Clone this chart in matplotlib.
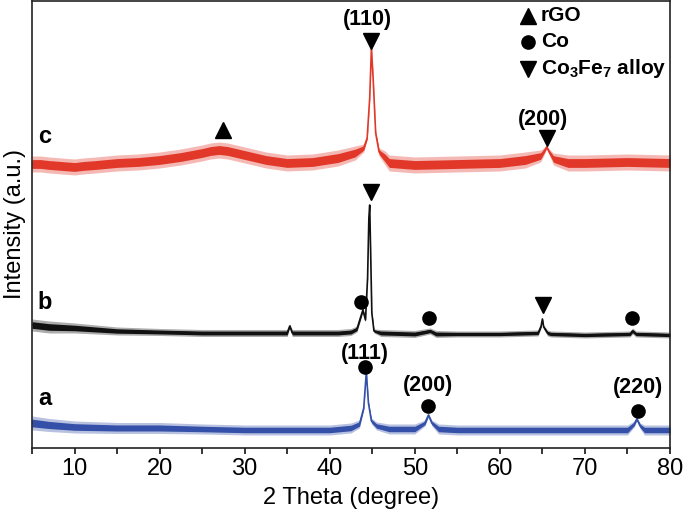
import matplotlib
matplotlib.use("Agg")
import matplotlib.pyplot as plt
import numpy as np

plt.rcParams['font.family'] = ['Liberation Sans', 'DejaVu Sans']
plt.rcParams['mathtext.fontset'] = 'custom'
plt.rcParams['mathtext.rm'] = 'Liberation Sans'
plt.rcParams['mathtext.bf'] = 'Liberation Sans:bold'

# ---- pattern c (red) : 2theta, intensity (a.u.), noise amplitude (spikes) ----
c_tt = [5, 6, 7, 8.5, 10, 11, 12.5, 15, 17.5, 20, 22.5, 25, 26, 27, 28, 29, 30, 32.5, 35,
        38, 41, 43, 44, 44.4, 44.7, 44.9, 45.1, 45.4, 45.8, 46.5, 47, 50, 55, 60, 63,
        64.8, 65.3, 65.5, 65.8, 66.3, 68, 70, 75, 80]
c_int = [284, 284, 283, 282, 281, 282, 283, 285, 286, 288, 291, 295, 297, 298, 297, 295,
         293, 288, 285, 286, 290, 295, 300, 310, 350, 400, 370, 315, 296, 290, 285, 283,
         284, 285, 288, 292, 298, 301, 296, 289, 285, 285, 286, 285]
c_noise = [8, 8, 8, 8, 8, 8, 8, 8, 8, 8, 8, 8, 8, 8, 8, 8, 8, 8, 8, 8, 8, 7, 4, 2, 1.5,
           1.5, 1.5, 2, 4, 7, 8, 8, 8, 8, 8, 6, 3, 2, 3, 6, 8, 8, 8, 8]

# ---- pattern b (black) ----
b_tt = [5, 7, 10, 15, 20, 25, 30, 35, 35.3, 35.6, 38, 41, 42.5, 43.2, 43.6, 43.9, 44.2,
        44.45, 44.6, 44.7, 44.8, 44.95, 45.2, 46, 50, 51.8, 52.5, 55, 60, 64.5, 64.85,
        65.0, 65.15, 65.6, 66, 70, 75.3, 75.6, 76, 80]
b_int = [123, 121, 120, 117, 116, 115, 115, 115, 122, 115, 115, 115, 116, 119, 130, 138,
         128, 170, 230, 243, 200, 135, 117, 115, 114, 117, 114, 114, 114, 115, 122, 129,
         121, 115, 114, 113, 114, 117, 114, 113]
b_noise = [6, 6, 5, 4, 3.5, 3.5, 3.5, 3.5, 2, 3.5, 3.5, 3.5, 3.5, 3, 3, 2, 2, 1.5,
           1.5, 1.5, 1.5, 1.5, 2, 3.5, 3.5, 3, 3.5, 3, 3, 3, 2, 1.5, 2, 3, 3, 3, 3, 3, 3, 3]

# ---- pattern a (blue) ----
a_tt = [5, 7, 10, 15, 20, 25, 30, 35, 40, 42.5, 43.5, 44.0, 44.3, 44.55, 44.9, 45.5, 47,
        50, 51.2, 51.6, 52.0, 52.8, 55, 60, 65, 70, 75, 75.8, 76.1, 76.5, 77, 80]
a_int = [25, 23, 21, 20, 20, 19, 18, 18, 18, 20, 24, 40, 76, 45, 27, 22, 19, 19, 25, 33,
         25, 19, 18, 18, 18, 18, 18, 24, 29, 22, 18, 18]
a_noise = [7, 6.5, 6, 5.5, 5.5, 5, 5, 5, 5, 5, 4, 2, 1.5, 2, 3, 4, 5, 5, 3, 2,
           3, 5, 5, 5, 5, 5, 5, 3, 2, 3, 5, 5]

# ---- peak markers ----
c_alloy_tt = [44.85, 65.5]
c_alloy_h = [407, 310]
c_alloy_hkl = ["(110)", "(200)"]
c_alloy_hkl_h = [428, 328]
c_rgo_tt = [27.45]
c_rgo_h = [318]
b_alloy_tt = [44.85, 65.07]
b_alloy_h = [256, 143]
b_co_tt = [43.7, 51.7, 75.5]
b_co_h = [146, 130, 130]
a_co_tt = [44.15, 51.5, 76.2]
a_co_h = [81, 42, 37]
a_co_hkl = ["(111)", "(200)", "(220)"]
a_co_hkl_h = [94, 62, 60]

red = '#E2382A'
blue = '#3450A8'
black = '#111111'

fig = plt.figure(figsize=(6.85, 5.2), dpi=100)
ax = fig.add_axes([0.0467, 0.1385, 0.9314, 0.8596])


def draw(tt, inten, noise, color):
    tt = np.array(tt)
    inten = np.array(inten, dtype=float)
    noise = np.array(noise, dtype=float)
    ax.fill_between(tt, inten - noise, inten + noise, color=color, lw=0, alpha=0.35)
    ax.fill_between(tt, inten - 0.55 * noise, inten + 0.55 * noise, color=color, lw=0)
    ax.plot(tt, inten, color=color, lw=1.2)


draw(c_tt, c_int, c_noise, red)
draw(b_tt, b_int, b_noise, black)
draw(a_tt, a_int, a_noise, blue)

ms_tri = 11.5
ms_dot = 9.5
ax.plot(c_alloy_tt, c_alloy_h, 'v', color='black', ms=ms_tri, ls='none')
ax.plot(c_rgo_tt, c_rgo_h, '^', color='black', ms=ms_tri, ls='none')
ax.plot(b_alloy_tt, b_alloy_h, 'v', color='black', ms=ms_tri, ls='none')
ax.plot(b_co_tt, b_co_h, 'o', color='black', ms=ms_dot, ls='none')
ax.plot(a_co_tt, a_co_h, 'o', color='black', ms=ms_dot, ls='none')

for t, h, s in zip(c_alloy_tt, c_alloy_hkl_h, c_alloy_hkl):
    ax.text(t - 0.4, h, s, ha='center', va='center', fontsize=15.5, fontweight='bold')
for t, h, s in zip(a_co_tt, a_co_hkl_h, a_co_hkl):
    ax.text(t, h, s, ha='center', va='center', fontsize=15.5, fontweight='bold')

# series labels
ax.text(6.5, 311, 'c', ha='center', va='center', fontsize=17, fontweight='bold')
ax.text(6.5, 145, 'b', ha='center', va='center', fontsize=17, fontweight='bold')
ax.text(6.5, 49, 'a', ha='center', va='center', fontsize=17, fontweight='bold')

# legend (manual)
leg_x_m, leg_x_t = 63.3, 64.8
for yy, mk, lab in [(432, '^', 'rGO'), (406, 'o', 'Co'),
                    (379, 'v', r'Co$_\mathbf{3}$Fe$_\mathbf{7}$ alloy')]:
    ax.plot([leg_x_m], [yy], mk, color='black', ms=ms_dot if mk == 'o' else ms_tri)
    ax.text(leg_x_t, yy, lab, ha='left', va='center', fontsize=15, fontweight='bold')

ax.set_xlim(5, 80)
ax.set_ylim(0, 447)
ax.set_yticks([])
ax.set_xticks([10, 20, 30, 40, 50, 60, 70, 80])
ax.set_xticks([5, 15, 25, 35, 45, 55, 65, 75], minor=True)
ax.tick_params(axis='x', which='both', direction='out', length=4, width=1.1,
               labelsize=17, pad=3)
for sp in ax.spines.values():
    sp.set_linewidth(1.2)
    sp.set_color('#222222')
ax.set_xlabel('2 Theta (degree)', fontsize=17, labelpad=5)
ax.set_ylabel('Intensity (a.u.)', fontsize=17, labelpad=4)

fig.savefig('out.png', dpi=100)
